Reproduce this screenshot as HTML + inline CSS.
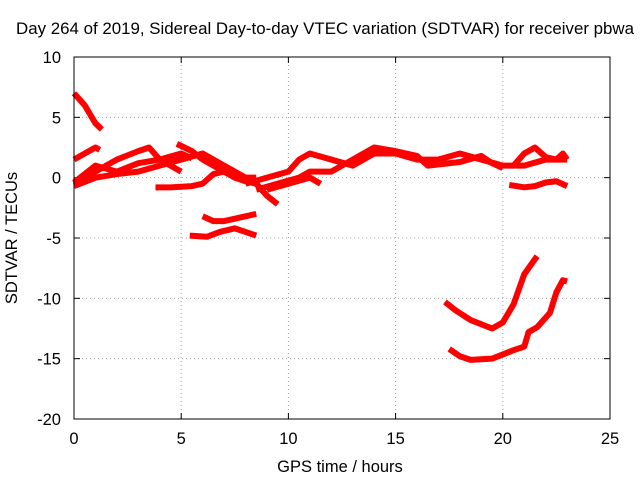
<!DOCTYPE html>
<html><head><meta charset="utf-8"><style>
body{margin:0;background:#fff}
svg{display:block;font-family:"Liberation Sans",sans-serif;font-size:16.5px}
</style></head><body>
<svg id="chart" width="640" height="480">
<text x="325" y="34" text-anchor="middle" textLength="618" lengthAdjust="spacingAndGlyphs">Day 264 of 2019, Sidereal Day-to-day VTEC variation (SDTVAR) for receiver pbwa</text>
<text x="340" y="472" text-anchor="middle">GPS time / hours</text>
<text transform="translate(17,238) rotate(-90)" text-anchor="middle">SDTVAR / TECUs</text>
<g id="grid"></g><g id="ticks"></g><g id="series"></g>
<rect x="74" y="57" width="536" height="362" fill="none" stroke="#000"/>
</svg>
<script>
const xTicks=[0,5,10,15,20,25];
const yTicks=[10,5,0,-5,-10,-15,-20];
const track1=[[0,7],[0.5,6],[1,4.5],[1.3,4]];
const track2=[[0,1.5],[0.5,2],[1,2.5],[1.2,2.3]];
const track3=[[0,-0.5],[1,0.5],[2,1.5],[3,2.2],[3.5,2.5],[4,1.5],[5,0.5]];
const track4=[[0,-0.7],[1,0],[2,0.3],[3,0.5],[4,1],[5,1.5],[6,2],[7,1],[8,0],[8.5,-0.5]];
const track5=[[3.8,-0.8],[4.5,-0.8],[5.5,-0.7],[6,-0.5],[6.5,0.3],[7,0.5],[7.5,0],[8,-0.3],[8.5,-0.5],[9,-1.5],[9.5,-2.2]];
const track6=[[4.8,2.8],[5.5,2.2],[6,1.5],[7,0.5],[8,0],[8.5,0]];
const track7=[[6,-3.2],[6.5,-3.6],[7,-3.6],[7.5,-3.4],[8.5,-3]];
const track8=[[5.4,-4.8],[6.2,-4.9],[6.8,-4.5],[7.5,-4.2],[8,-4.5],[8.5,-4.8]];
const track9=[[8,-0.5],[9,0],[10,0.5],[10.5,1.5],[11,2],[12,1.5],[13,1],[14,2],[15,2],[16,1.5],[17,1.5],[18,2],[19,1.5],[20,1],[21,1],[22,1.5],[23,1.5]];
const track10=[[8.5,-1],[9.5,-0.5],[10.5,0],[11,0.5],[12,0.5],[13,1.5],[14,2.5],[15,2.2],[16,1.8],[16.5,1],[18,1.3],[19,1.8],[19.5,1.2],[20,0.8]];
const track11=[[20.5,1],[21,2],[21.5,2.5],[22,1.7],[22.5,1.5],[22.8,2],[23,1.5]];
const track12=[[20.3,-0.6],[21,-0.8],[21.5,-0.7],[22,-0.4],[22.5,-0.3],[23,-0.7]];
const track13=[[17.3,-10.3],[17.8,-11],[18.5,-11.8],[19.5,-12.5],[20,-12],[20.5,-10.5],[21,-8],[21.6,-6.5]];
const track14=[[17.5,-14.2],[18,-14.8],[18.5,-15.1],[19.5,-15],[20.5,-14.3],[21,-14],[21.2,-12.8],[21.6,-12.4],[22.2,-11.2],[22.5,-9.5],[22.8,-8.5],[23,-8.6]];
const track15=[[9,-1],[10,-0.5],[11,0],[11.5,-0.5]];
const track16=[[0,-0.4],[1,1],[2,0.5],[3,1.2],[4,1.5],[5,2],[5.5,1.6]];
const tracks=[track1,track2,track3,track4,track5,track6,track7,track8,track9,track10,track11,track12,track13,track14,track15,track16];
const NS="http://www.w3.org/2000/svg";
const X0=74,X1=610,Y0=419,Y1=57;
function sx(v){return X0+(v-0)/(25-0)*(X1-X0);}
function sy(v){return Y0-(v+20)/30*(Y0-Y1);}
function mk(t,a,p){const e=document.createElementNS(NS,t);for(const k in a)e.setAttribute(k,a[k]);p.appendChild(e);return e;}
const grid=document.getElementById('grid'),ticks=document.getElementById('ticks'),series=document.getElementById('series');
xTicks.forEach(v=>{const x=sx(v);
 if(v>0&&v<25){const g=mk('line',{x1:x,x2:x,y1:Y1,y2:Y0,stroke:'#a0a0a0','stroke-dasharray':'1,3'},grid);
 
 }
 const t=mk('text',{x:x,y:Y0+25,'text-anchor':'middle'},ticks);t.textContent=v;
 
 
 mk('line',{x1:x,x2:x,y1:Y0,y2:Y0-6,stroke:'#000'},ticks);mk('line',{x1:x,x2:x,y1:Y1,y2:Y1+6,stroke:'#000'},ticks);});
yTicks.forEach(v=>{const y=sy(v);
 if(v<10&&v>-20){const g=mk('line',{x1:X0,x2:X1,y1:y,y2:y,stroke:'#a0a0a0','stroke-dasharray':'1,3'},grid);
 
 }
 const t=mk('text',{x:X0-13,y:y+6,'text-anchor':'end'},ticks);t.textContent=v;
 
 
 mk('line',{x1:X0,x2:X0+6,y1:y,y2:y,stroke:'#000'},ticks);mk('line',{x1:X1,x2:X1-6,y1:y,y2:y,stroke:'#000'},ticks);});
tracks.forEach((tr,i)=>{const p=mk('polyline',{points:tr.map(d=>sx(d[0])+','+sy(d[1])).join(' '),fill:'none',stroke:'#ff0000','stroke-width':6,'stroke-linejoin':'round'},series);
 
 });
</script>
</body></html>
